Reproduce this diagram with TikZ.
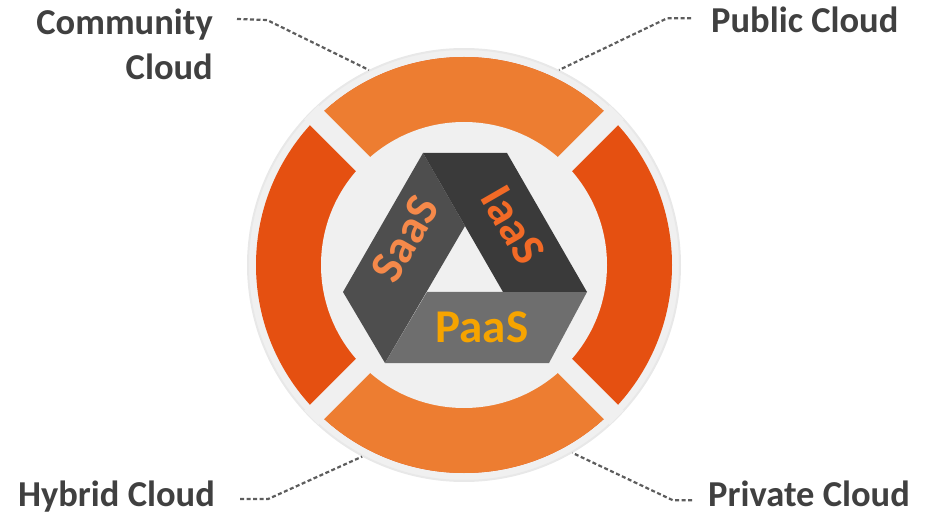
\documentclass[tikz,border=0pt]{standalone}
\usepackage{fontspec}
\setmainfont{Carlito}
\definecolor{ringlight}{HTML}{ED7D31}
\definecolor{ringdark}{HTML}{E55011}
\definecolor{bggray}{HTML}{F0F0F0}
\definecolor{labelgray}{HTML}{404040}
\definecolor{saasband}{HTML}{4E4E4E}
\definecolor{iaasband}{HTML}{3A3A3A}
\definecolor{paasband}{HTML}{6E6E6E}
\definecolor{saastext}{HTML}{F5894A}
\definecolor{iaastext}{HTML}{F26A26}
\definecolor{paastext}{HTML}{F6A400}

\begin{document}
\begin{tikzpicture}[
x=1pt, y=1pt,
cloudlabel/.style={
  text=labelgray,
  font=\bfseries\fontsize{36.5}{45}\selectfont,
  inner sep=0pt
  },
svclabel/.style={
  font=\bfseries\fontsize{47}{52}\selectfont,
  inner sep=0pt
  },
leader/.style={
  draw=labelgray!85,
  line width=2.2pt,
  dash pattern=on 4pt off 2.5pt
  },
gap/.style={
  draw=bggray,
  line width=20pt
  }
]
\useasboundingbox (0,0) rectangle (938,515);
\coordinate (c) at (464,250);

% ring
\fill[bggray, draw=black!9, line width=2pt] (c) circle[radius=216pt];
\fill[ringdark] (c) circle[radius=208pt];
\foreach \a in {45,225}
  \fill[ringlight] (c) -- ++(\a:208) arc[start angle=\a, delta angle=90, radius=208pt] -- cycle;
\fill[bggray] (c) circle[radius=143pt];
\foreach \a in {45,135}
  \draw[gap] (c) ++(\a:216) -- ++(\a:-432);

% triangle logo
\coordinate (tl) at (423,362);
\coordinate (tr) at (507,362);
\coordinate (r) at (587,223);
\coordinate (br) at (549,152);
\coordinate (bl) at (385,152);
\coordinate (l) at (343,223);
\coordinate (apex) at (465,289);
\coordinate (ibl) at (427,223);
\coordinate (ibr) at (503,223);
\fill[saasband] (tl) -- (apex) -- (bl) -- (l) -- cycle;
\fill[paasband] (ibl) -- (r) -- (br) -- (bl) -- cycle;
\fill[iaasband] (tl) -- (tr) -- (r) -- (ibr) -- cycle;

\node[svclabel, text=saastext, rotate=60] (saas) at (405,276) {SaaS};
\node[svclabel, text=iaastext, rotate=-60] (iaas) at (513,290) {IaaS};
\node[svclabel, text=paastext] (paas) at (482,188) {PaaS};

% labels
\node[cloudlabel, align=right, anchor=north east] (community) at (213,506) {Community\\Cloud};
\node[cloudlabel, anchor=base west] (public) at (711,482) {Public Cloud};
\node[cloudlabel, anchor=base east] (hybrid) at (215,9) {Hybrid Cloud};
\node[cloudlabel, anchor=base west] (private) at (708,9) {Private Cloud};

\foreach \a/\n in {116/ringnw, 64/ringne, 242/ringsw, 300/ringse}
  \path (c) ++(\a:217) coordinate (\n);

\draw[leader] (community.north east) ++(24,-10) -- ++(30,-1) -- (ringnw);
\draw[leader] (public.west) ++(-20,2) -- ++(-24,0) -- (ringne);
\draw[leader] (hybrid.east) ++(25,-3) -- ++(28,0) -- (ringsw);
\draw[leader] (private.west) ++(-16,-7) -- ++(-19,0) -- (ringse);
\end{tikzpicture}
\end{document}
